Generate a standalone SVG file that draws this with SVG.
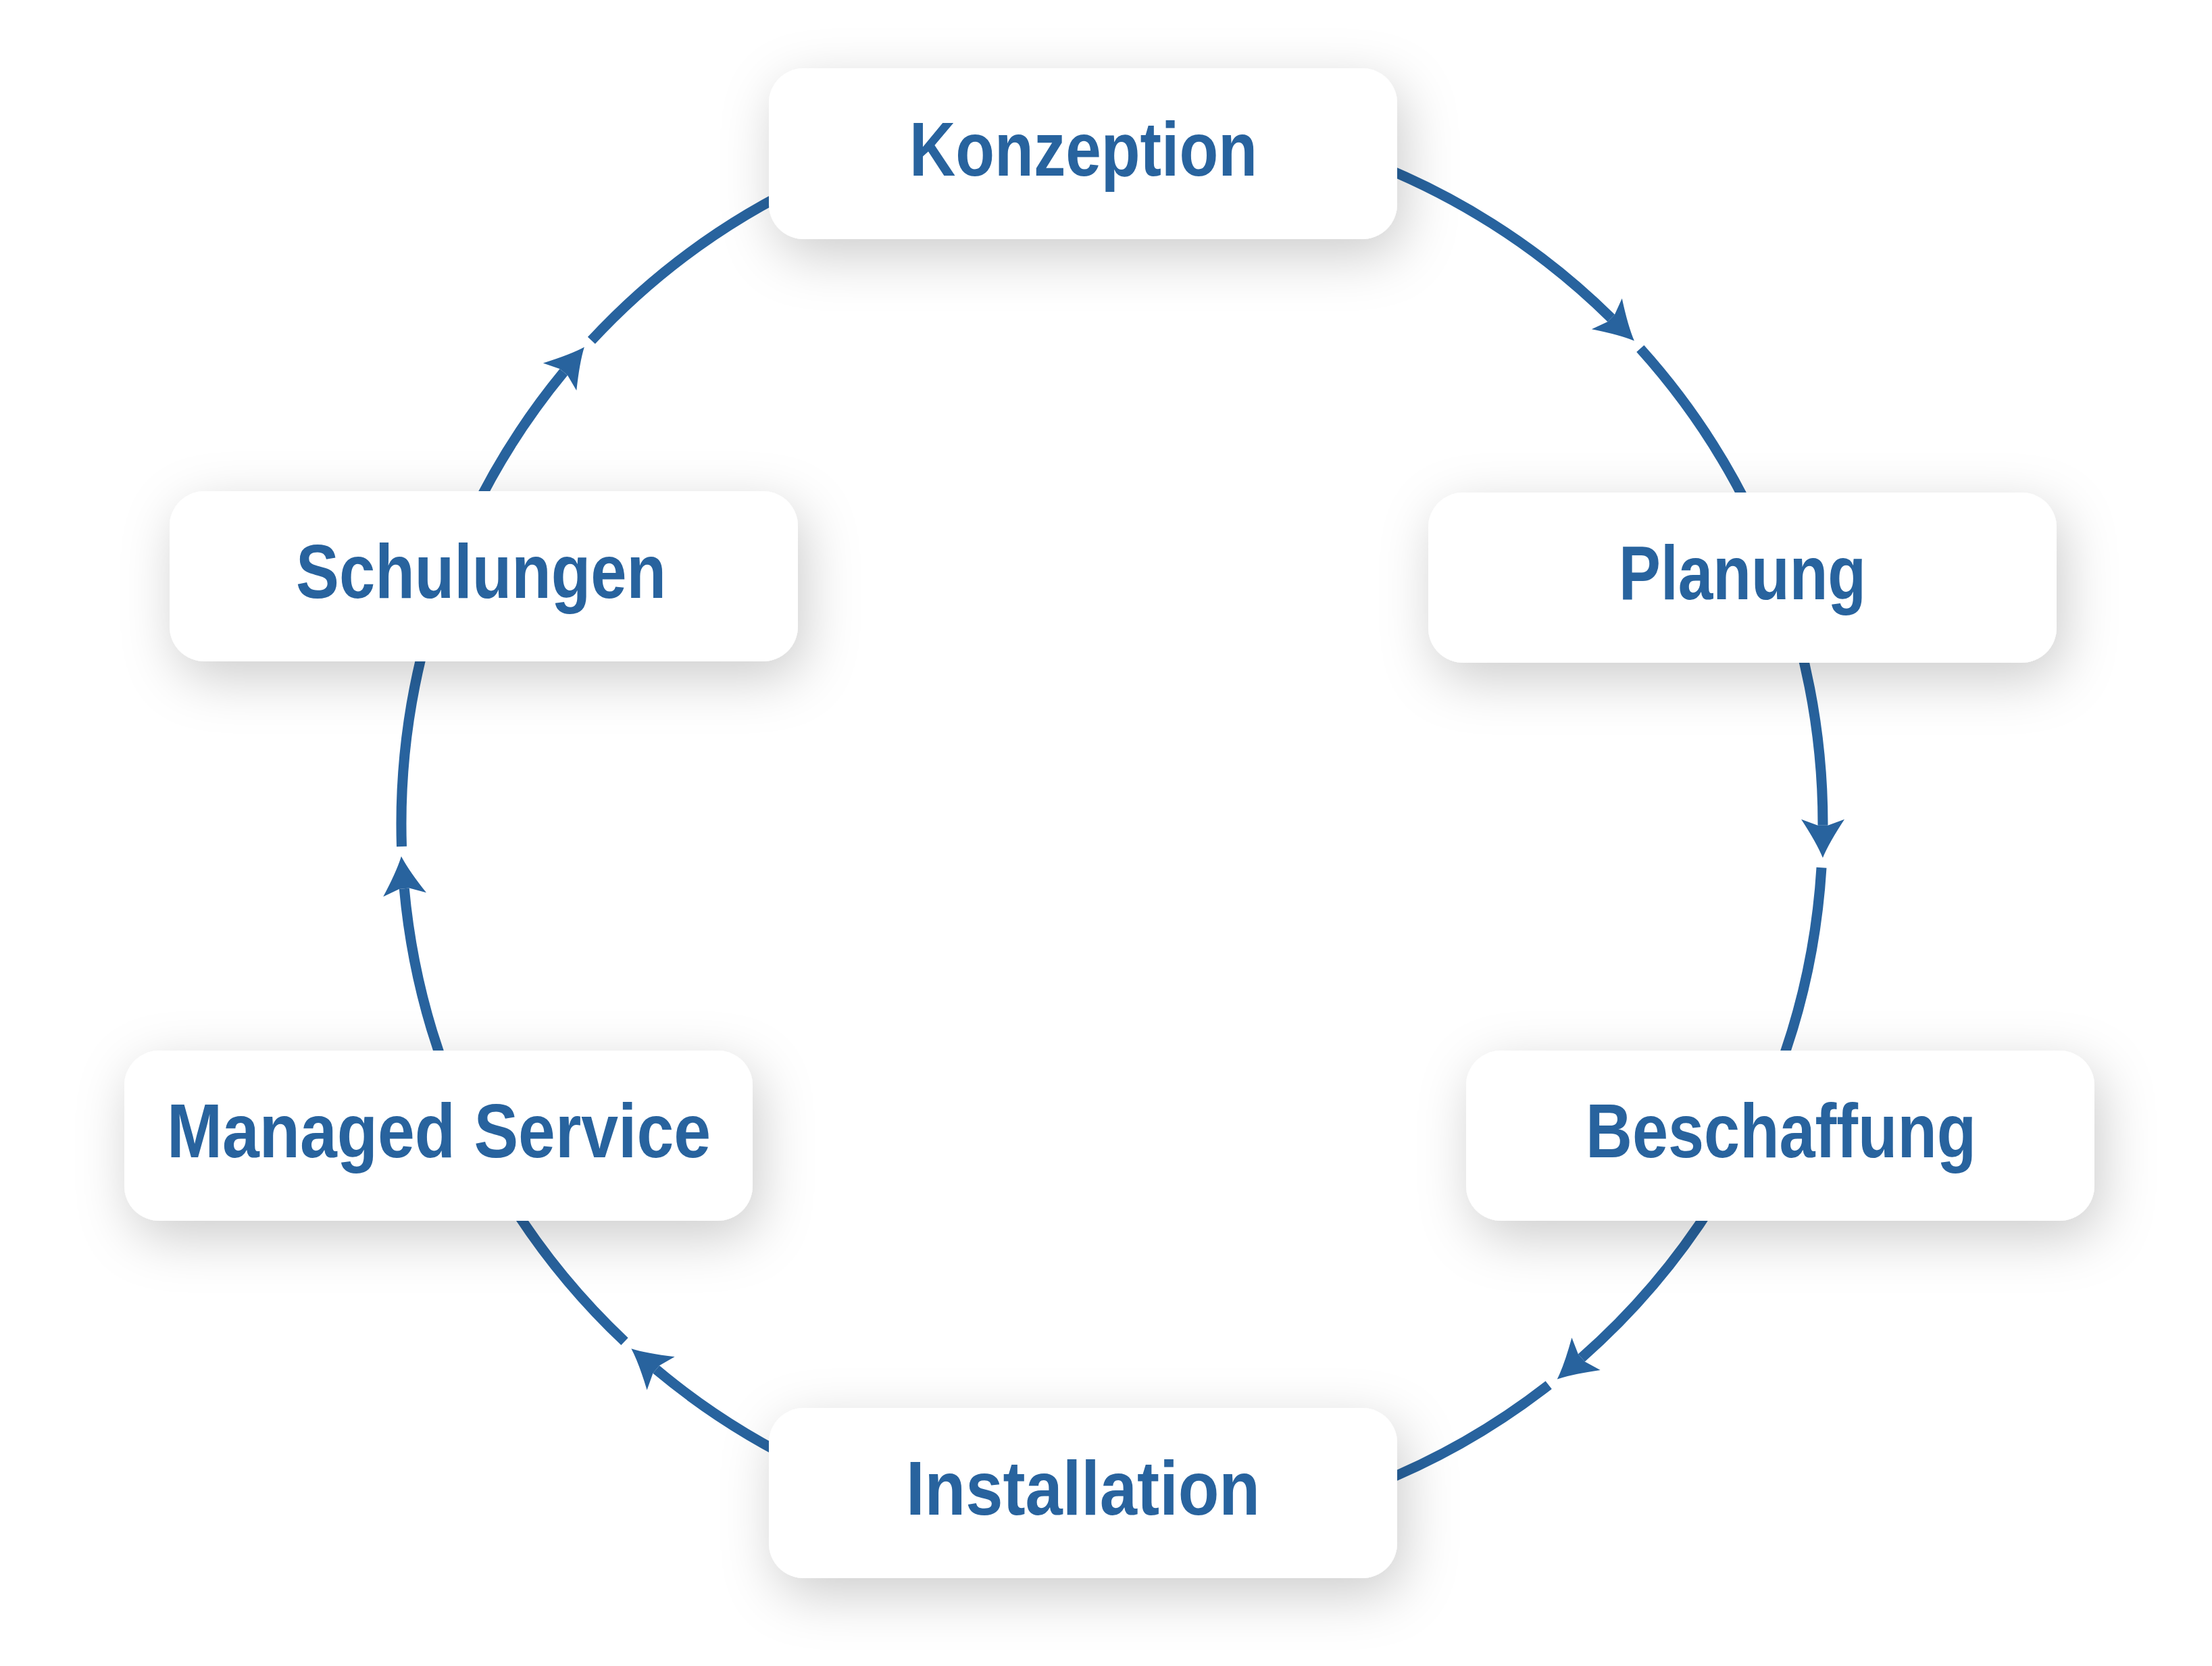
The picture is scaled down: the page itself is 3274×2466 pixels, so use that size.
<svg xmlns="http://www.w3.org/2000/svg" width="3274" height="2466" viewBox="0 0 3274 2466">
  <style>
    .arc { fill: none; stroke: #28639e; stroke-width: 15; stroke-linecap: butt; }
    .box { fill: #ffffff; filter: url(#shadow); }
    .label { font-family: "Liberation Sans", Arial, sans-serif; font-weight: bold; font-size: 113px; fill: #28639e; text-anchor: middle; }
  </style>
  <defs>
    <filter id="shadow" x="-25%" y="-60%" width="150%" height="230%">
      <feDropShadow dx="10" dy="24" stdDeviation="40" flood-color="#000000" flood-opacity="0.2"/>
    </filter>
    <marker id="head" markerUnits="userSpaceOnUse" orient="auto" refX="0" refY="0" markerWidth="120" markerHeight="120" viewBox="-60 -60 120 120" overflow="visible">
      <path d="M 48 0 Q 26 -9 -9 -32 L 0 -7.5 L 0 7.5 L -9 32 Q 26 9 48 0 Z" fill="#28639e"/>
    </marker>
  </defs>
  <rect width="3274" height="2466" fill="#ffffff"/>

  <g id="connectors">
    <path class="arc" d="M 2005.8 231.4 A 1052 1052 0 0 1 2384.7 470.9" marker-end="url(#head)"/>
    <path class="arc" d="M 2427.8 516.1 A 1052 1052 0 0 1 2599.4 775.4"/>
    <path class="arc" d="M 2662.2 947.7 A 1052 1052 0 0 1 2698.0 1221.8" marker-end="url(#head)"/>
    <path class="arc" d="M 2696.0 1284.2 A 1052 1052 0 0 1 2628.1 1597.0"/>
    <path class="arc" d="M 2547.7 1761.8 A 1052 1052 0 0 1 2340.8 2009.9" marker-end="url(#head)"/>
    <path class="arc" d="M 2292.2 2050.1 A 1052 1052 0 0 1 2005.8 2208.6"/>
    <path class="arc" d="M 1201.4 2173.4 A 1052 1052 0 0 1 971.2 2027.1" marker-end="url(#head)"/>
    <path class="arc" d="M 924.5 1985.6 A 1052 1052 0 0 1 744.3 1761.8"/>
    <path class="arc" d="M 663.9 1597.0 A 1052 1052 0 0 1 598.3 1315.3" marker-end="url(#head)"/>
    <path class="arc" d="M 594.5 1253.0 A 1052 1052 0 0 1 634.7 930.0"/>
    <path class="arc" d="M 692.6 775.4 A 1052 1052 0 0 1 834.3 550.8" marker-end="url(#head)"/>
    <path class="arc" d="M 875.4 503.9 A 1052 1052 0 0 1 1201.4 266.6"/>
  </g>

  <g id="konzeption">
    <rect class="box" x="1138" y="101" width="930" height="253" rx="52" ry="52"/>
    <text class="label" x="1603.5" y="260" textLength="515" lengthAdjust="spacingAndGlyphs">Konzeption</text>
  </g>
  <g id="planung">
    <rect class="box" x="2114" y="729" width="930" height="252" rx="52" ry="52"/>
    <text class="label" x="2579" y="887" textLength="366" lengthAdjust="spacingAndGlyphs">Planung</text>
  </g>
  <g id="beschaffung">
    <rect class="box" x="2170" y="1555" width="930" height="252" rx="52" ry="52"/>
    <text class="label" x="2636" y="1713" textLength="578" lengthAdjust="spacingAndGlyphs">Beschaffung</text>
  </g>
  <g id="installation">
    <rect class="box" x="1138" y="2084" width="930" height="252" rx="52" ry="52"/>
    <text class="label" x="1603" y="2242" textLength="524" lengthAdjust="spacingAndGlyphs">Installation</text>
  </g>
  <g id="managed-service">
    <rect class="box" x="184" y="1555" width="930" height="252" rx="52" ry="52"/>
    <text class="label" x="649.5" y="1713" textLength="805" lengthAdjust="spacingAndGlyphs">Managed Service</text>
  </g>
  <g id="schulungen">
    <rect class="box" x="251" y="727" width="930" height="252" rx="52" ry="52"/>
    <text class="label" x="712" y="885" textLength="548" lengthAdjust="spacingAndGlyphs">Schulungen</text>
  </g>
</svg>
